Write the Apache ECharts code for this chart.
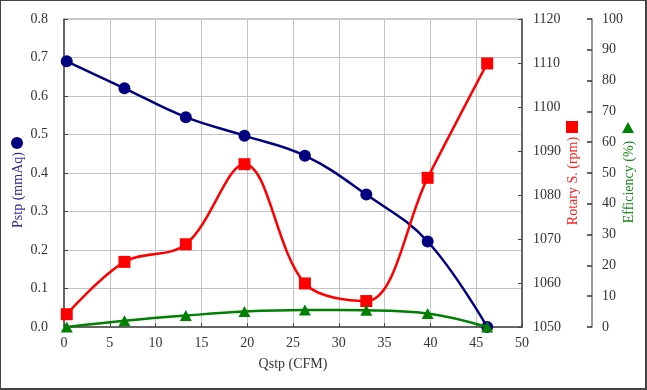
<!DOCTYPE html>
<html><head><meta charset="utf-8">
<script src="https://cdn.jsdelivr.net/npm/echarts@6/dist/echarts.min.js"></script>
<style>html,body{margin:0;padding:0;background:#fff}#c{width:647px;height:390px;position:relative}
#b{position:absolute;left:0;top:0;width:647px;height:390px;box-sizing:border-box;border-top:1px solid #444;border-left:1px solid #444;border-right:2px solid #444;border-bottom:2px solid #444;pointer-events:none}</style>
</head><body><div style="position:relative"><div id="c"></div><div id="b"></div></div>
<script>
const qstp = [0.3, 6.6, 13.3, 19.7, 26.3, 33.0, 39.7, 46.2];
const pstp = [0.69, 0.62, 0.545, 0.497, 0.445, 0.344, 0.222, 0.0];
const rpm = [1052.9, 1064.8, 1068.8, 1087.0, 1059.9, 1055.9, 1083.9, 1109.9];
const eff = [0, 2.0, 3.7, 5.0, 5.5, 5.4, 4.4, 0];
const xName = 'Qstp (CFM)';
const yNames = ['Pstp (mmAq)', 'Rotary S. (rpm)', 'Efficiency (%)'];

const font = '"Liberation Serif", "DejaVu Serif", serif';
const lab = {color:'#333', fontFamily:font, fontSize:14};
const pair = a => qstp.map((x,i)=>[x,a[i]]);
const chart = echarts.init(document.getElementById('c'), null, {renderer:'canvas'});
chart.setOption({
  animation:false,
  grid:{left:64,right:125,top:19,bottom:63,show:true,borderColor:'#9a9a9a',borderWidth:1},
  xAxis:{type:'value',min:0,max:50,interval:5,
    name:xName,nameLocation:'middle',nameGap:30,nameTextStyle:{color:'#333',fontFamily:font,fontSize:14},
    axisLine:{show:true,onZero:false,lineStyle:{color:'#444',width:1.5}},
    axisTick:{show:true,inside:true,length:4,lineStyle:{color:'#444'}},
    axisLabel:Object.assign({margin:9},lab),
    splitLine:{show:true,lineStyle:{color:'#c4c4c4',width:1}}},
  yAxis:[
    {type:'value',min:0,max:0.8,interval:0.1,position:'left',
     axisLine:{show:true,onZero:false,lineStyle:{color:'#444',width:1.5}},
     axisTick:{show:true,inside:true,length:4,lineStyle:{color:'#444'}},
     axisLabel:Object.assign({margin:16,formatter:v=>v.toFixed(1)},lab),
     splitLine:{show:true,lineStyle:{color:'#c4c4c4',width:1}}},
    {type:'value',min:1050,max:1120,interval:10,position:'right',offset:0,
     axisLine:{show:true,onZero:false,lineStyle:{color:'#444',width:1.5}},
     axisTick:{show:true,inside:true,length:4,lineStyle:{color:'#444'}},
     axisLabel:Object.assign({margin:11,formatter:v=>String(v)},lab),
     splitLine:{show:false}},
    {type:'value',min:0,max:100,interval:10,position:'right',offset:70,
     axisLine:{show:true,onZero:false,lineStyle:{color:'#777',width:1.5}},
     axisTick:{show:true,inside:true,length:5,lineStyle:{color:'#333',width:1.5}},
     axisLabel:Object.assign({margin:10,formatter:v=>String(v)},lab),
     splitLine:{show:false}}
  ],
  series:[
    {type:'line',yAxisIndex:0,data:pair(pstp),smooth:0.4,symbol:'circle',symbolSize:12,
     lineStyle:{color:'#000080',width:2.5},itemStyle:{color:'#000080'},z:2},
    {type:'line',yAxisIndex:1,data:pair(rpm),smooth:0.35,symbol:'rect',symbolSize:12,
     lineStyle:{color:'#ff0000',width:2.5},itemStyle:{color:'#ff0000'},z:3},
    {type:'line',yAxisIndex:2,data:pair(eff),smooth:0.4,symbol:'triangle',symbolSize:[12,11],
     lineStyle:{color:'#008000',width:2.5},itemStyle:{color:'#008000'},z:4}
  ],
  graphic:[
    {type:'circle',left:11,top:137,shape:{r:6},style:{fill:'#000080'}},
    {type:'text',x:18,y:190,rotation:Math.PI/2,style:{text:yNames[0],fill:'#2a2a9a',font:'14px '+font,align:'center',verticalAlign:'middle'}},
    {type:'rect',left:566,top:121,shape:{width:12,height:12},style:{fill:'#ff0000'}},
    {type:'text',x:573,y:181,rotation:Math.PI/2,style:{text:yNames[1],fill:'#ff2020',font:'14px '+font,align:'center',verticalAlign:'middle'}},
    {type:'polygon',shape:{points:[[628,122],[634,133],[622,133]]},style:{fill:'#008000'}},
    {type:'text',x:629,y:182,rotation:Math.PI/2,style:{text:yNames[2],fill:'#1f8a1f',font:'14px '+font,align:'center',verticalAlign:'middle'}}
  ]
});
</script></body></html>
